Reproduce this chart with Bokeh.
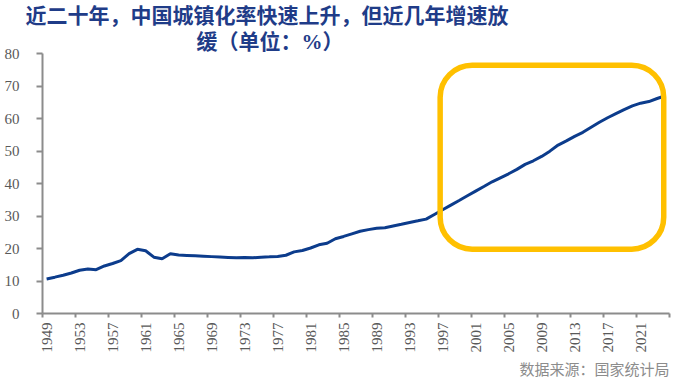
import math
from bokeh.plotting import figure
from bokeh.models import Range1d, FixedTicker, Title, BoxAnnotation, ColumnDataSource
from bokeh.embed import file_html
from bokeh.resources import INLINE

# ---- data ----
years = list(range(1949, 2025))
urban_rate = [
    10.64, 11.18, 11.78, 12.46, 13.31, 13.69, 13.48, 14.62, 15.39, 16.25,
    18.41, 19.75, 19.29, 17.33, 16.84, 18.37, 17.98, 17.86, 17.74, 17.62,
    17.50, 17.38, 17.26, 17.13, 17.20, 17.16, 17.34, 17.44, 17.55, 17.92,
    18.96, 19.39, 20.16, 21.13, 21.62, 23.01, 23.71, 24.52, 25.32, 25.81,
    26.21, 26.41, 26.94, 27.46, 27.99, 28.51, 29.04, 30.48, 31.91, 33.35,
    34.78, 36.22, 37.66, 39.09, 40.53, 41.76, 42.99, 44.34, 45.89, 46.99,
    48.34, 49.95, 51.83, 53.10, 54.49, 55.75, 57.33, 58.84, 60.24, 61.50,
    62.71, 63.89, 64.72, 65.22, 66.16, 67.00,
]
x_label_years = years[::4]                      # 1949, 1953, ... 2021
x_labels = [str(y) for y in x_label_years]
y_ticks = [0, 10, 20, 30, 40, 50, 60, 70, 80]
title_lines = ["近二十年，中国城镇化率快速上升，但近几年增速放", "缓（单位：%）"]
source_text = "数据来源：国家统计局"
highlight_x = (1996.7, 2023.8)
highlight_y = (19.8, 76.4)

W, H = 675, 381
p = figure(width=W, height=H, output_backend="svg", toolbar_location=None,
           x_range=Range1d(years[0] - 0.5, years[-1] + 0.5),
           y_range=Range1d(0, 80),
           min_border_left=42, min_border_right=6,
           min_border_top=53, min_border_bottom=67)
p.outline_line_color = None
p.background_fill_color = "white"
p.border_fill_color = "white"
p.xgrid.visible = False
p.ygrid.visible = False

axis_color = "#8C8C8C"
lbl_color = "#595959"

# x axis: labels at category centres, ticks at category boundaries
xa = p.xaxis[0]
xa.ticker = FixedTicker(ticks=x_label_years,
                        minor_ticks=[y - 0.5 for y in years[::4]] + [years[-1] + 0.5])
xa.major_label_overrides = {y: s for y, s in zip(x_label_years, x_labels)}
xa.major_tick_line_color = None
xa.major_tick_out = 4
xa.major_tick_in = 0
xa.minor_tick_line_color = axis_color
xa.minor_tick_line_width = 2
xa.minor_tick_out = 4
xa.minor_tick_in = 0
xa.axis_line_color = axis_color
xa.axis_line_width = 2
xa.major_label_orientation = math.pi / 2
xa.major_label_standoff = 5
xa.major_label_text_font = "Liberation Serif"
xa.major_label_text_font_size = "15px"
xa.major_label_text_color = lbl_color

ya = p.yaxis[0]
ya.ticker = FixedTicker(ticks=y_ticks)
ya.minor_tick_line_color = None
ya.major_tick_out = 6
ya.major_tick_in = 0
ya.major_tick_line_color = axis_color
ya.major_tick_line_width = 2
ya.axis_line_color = axis_color
ya.axis_line_width = 2
ya.major_label_standoff = 17
ya.major_label_text_font = "Liberation Serif"
ya.major_label_text_font_size = "15px"
ya.major_label_text_color = lbl_color

src = ColumnDataSource(data=dict(x=years, y=urban_rate))
p.line("x", "y", source=src, line_color="#0C3C8C", line_width=3)

box = BoxAnnotation(left=highlight_x[0], right=highlight_x[1],
                    bottom=highlight_y[0], top=highlight_y[1],
                    fill_alpha=0, line_color="#FFC000", line_alpha=1.0,
                    line_width=5.5, border_radius=32)
p.add_layout(box)

cjk_font = "Liberation Serif, Noto Sans CJK SC"
title_color = "#1F3C88"
# second line first (nearest the frame), then the first line above it
p.add_layout(Title(text=title_lines[1], align="left", offset=154, standoff=0,
                   text_font=cjk_font, text_font_style="bold",
                   text_font_size="21px", text_color=title_color), "above")
p.add_layout(Title(text=title_lines[0], align="left", offset=-17, standoff=0,
                   text_font=cjk_font, text_font_style="bold",
                   text_font_size="21px", text_color=title_color), "above")

p.add_layout(Title(text=source_text, align="right", offset=0, standoff=8,
                   text_font=cjk_font, text_font_style="normal",
                   text_font_size="15px", text_color="#8C8C8C"), "below")

open("out.html", "w").write(file_html(p, INLINE))
